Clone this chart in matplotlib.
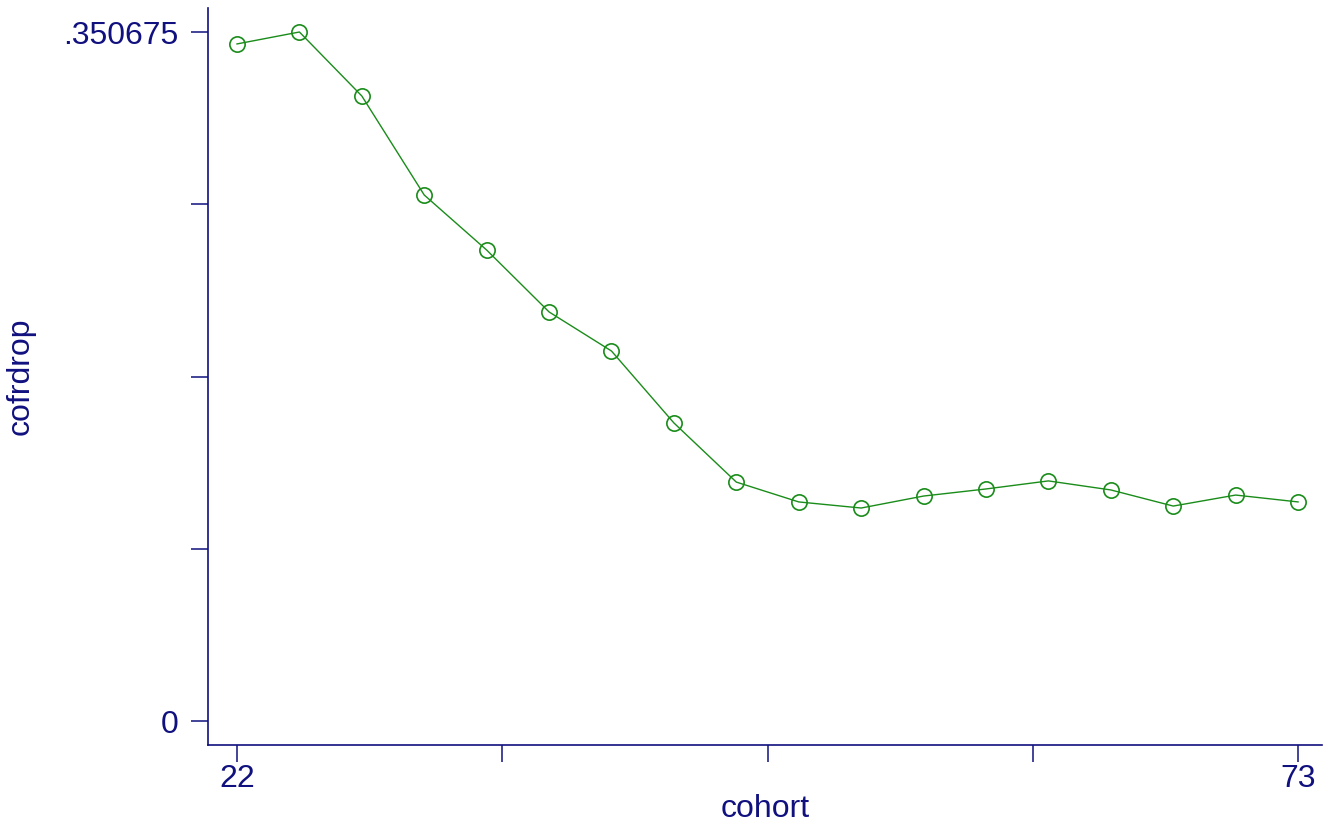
import numpy as np
import matplotlib.pyplot as plt

plt.rcParams['font.family'] = ['Liberation Sans', 'DejaVu Sans']

# data
cohort = [22, 25, 28, 31, 34, 37, 40, 43, 46, 49, 52, 55, 58, 61, 64, 67, 70, 73]
cofrdrop = [0.3446, 0.350675, 0.3181, 0.2677, 0.2397, 0.2082, 0.1883, 0.1517,
            0.1216, 0.1115, 0.1084, 0.1145, 0.1181, 0.1222, 0.1176, 0.1094,
            0.1150, 0.1115]

ymax = 0.350675
xticks = np.linspace(22, 73, 5)
yticks = np.linspace(0, ymax, 5)
xticklabels = ['22', '', '', '', '73']
yticklabels = ['0', '', '', '', '.350675']

navy = '#10107f'
green = '#1a8c1a'

fig = plt.figure(figsize=(13.28, 8.26), dpi=100)
ax = fig.add_axes([208/1328, 81/826, (1322-208)/1328, (745-8)/826])

ax.plot(cohort, cofrdrop, color=green, lw=1.0, marker='o', ms=11,
        mfc='none', mec=green, mew=1.2)

ax.set_xlim(20.606, 74.15)
ax.set_ylim(-0.01221, 0.36289)

ax.set_xticks(xticks)
ax.set_xticklabels(xticklabels)
ax.set_yticks(yticks)
ax.set_yticklabels(yticklabels)

for s in ['top', 'right']:
    ax.spines[s].set_visible(False)
for s in ['left', 'bottom']:
    ax.spines[s].set_color(navy)
    ax.spines[s].set_linewidth(1.2)

ax.tick_params(axis='both', colors=navy, labelcolor=navy, length=12,
               width=1.1, labelsize=23, direction='out')
ax.tick_params(axis='y', pad=9)
ax.tick_params(axis='x', pad=2)

ax.set_xlabel('cohort', fontsize=23, color=navy, labelpad=0)
ax.set_ylabel('cofrdrop', fontsize=23, color=navy, labelpad=20)

fig.savefig('out.png', dpi=100)
